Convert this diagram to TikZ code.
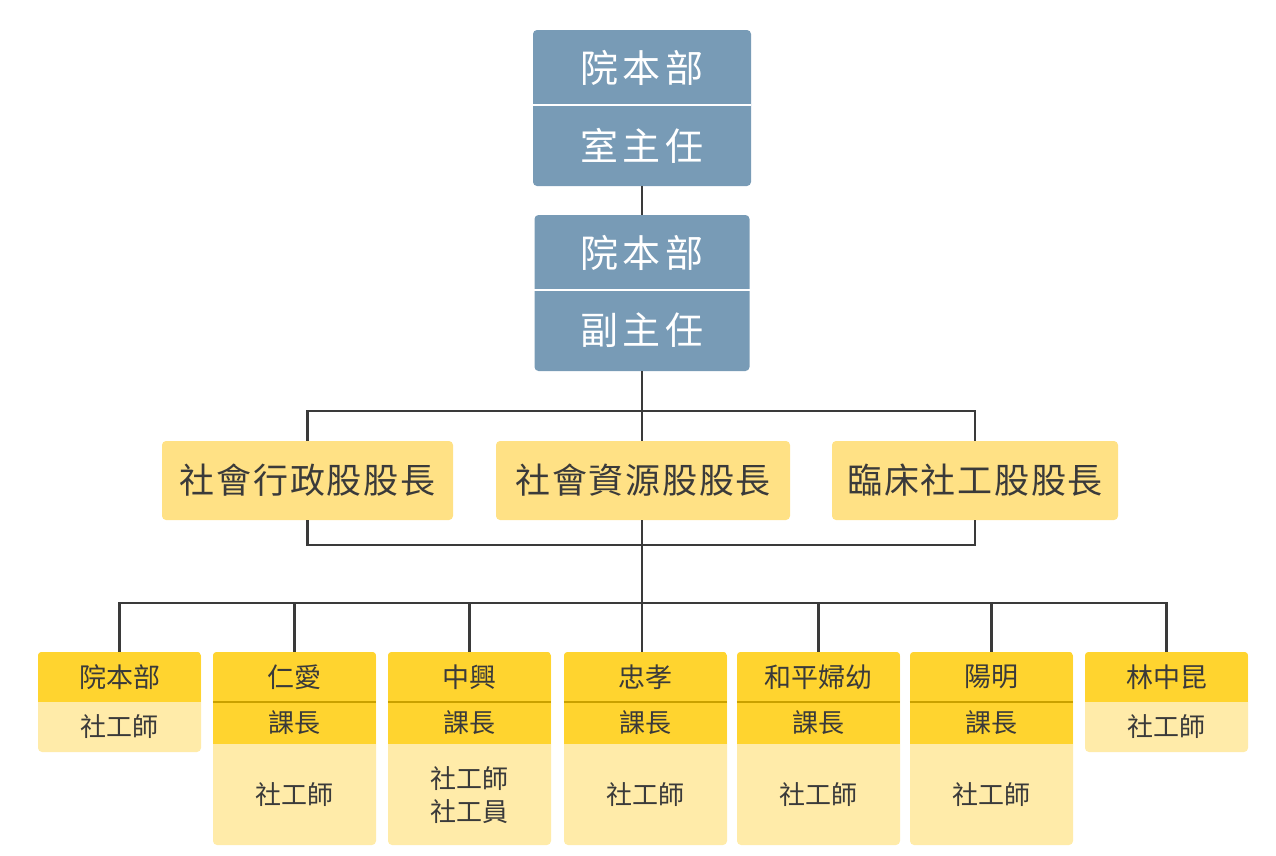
\documentclass[tikz,border=0pt]{standalone}
\usepackage{fontspec}
\setmainfont{Noto Sans CJK TC}
\definecolor{chiefblue}{HTML}{789BB6}
\definecolor{sectionfill}{HTML}{FFE185}
\definecolor{unithead}{HTML}{FFD42F}
\definecolor{unitbody}{HTML}{FFEBA9}
\definecolor{unitrule}{HTML}{C9A100}
\definecolor{ink}{HTML}{3A3A3A}

\begin{document}
\begin{tikzpicture}[
  x=1pt, y=-1pt,
  chiefbox/.style={rectangle, rounded corners=4pt, fill=chiefblue, inner sep=0pt,
                   minimum height=156pt},
  chieftext/.style={text=white, inner sep=0pt, minimum height=75pt,
                    font=\fontsize{38}{44}\selectfont\addfontfeature{LetterSpace=12}},
  sectionbox/.style={rectangle, rounded corners=4pt, fill=sectionfill, inner sep=0pt,
                     minimum height=79pt, text=ink,
                     font=\fontsize{35}{42}\selectfont\addfontfeature{LetterSpace=5}},
  unitbox/.style={rectangle, rounded corners=4pt, fill=unitbody, inner sep=0pt,
                  minimum width=163pt},
  unitname/.style={fill=unithead, minimum width=163pt, minimum height=50pt, inner sep=0pt,
                   text=ink, font=\fontsize{27}{32}\selectfont},
  unitchief/.style={fill=unithead, minimum width=163pt, minimum height=42pt, inner sep=0pt,
                    text=ink, font=\fontsize{26}{32}\selectfont},
  staff/.style={text=ink, align=center, inner sep=0pt, font=\fontsize{26}{33}\selectfont},
  link/.style={line width=2.8pt, ink},
  bluerule/.style={line width=1.5pt, white},
  unitsplit/.style={line width=1.5pt, unitrule},
]

\useasboundingbox (0,0) rectangle (1276,855);

% directors
\node[chiefbox, minimum width=218pt] (top) at (642,108) {};
\node[chieftext] (topa) at (642,67.5) {院本部};
\node[chieftext] (topb) at (642,146) {室主任};
\draw[bluerule] (top.west |- topa.south) -- (top.east |- topa.south);

\node[chiefbox, minimum width=215pt] (dep) at (642,293) {};
\node[chieftext] (depa) at (642,252.5) {院本部};
\node[chieftext] (depb) at (642,330) {副主任};
\draw[bluerule] (dep.west |- depa.south) -- (dep.east |- depa.south);

% sections
\node[sectionbox, minimum width=291pt] (secA) at (307.5,480.5) {社會行政股股長};
\node[sectionbox, minimum width=294pt] (secB) at (643,480.5) {社會資源股股長};
\node[sectionbox, minimum width=286pt] (secC) at (975,480.5) {臨床社工股股長};

% units
\node[unitbox, minimum height=100pt] (u1) at (119.5,702) {};
\begin{scope}
  \clip[rounded corners=4pt] (u1.south west) rectangle (u1.north east);
  \node[unitname] (u1n) at (119.5,677) {院本部};
\end{scope}
\node[staff] (u1s) at (119.5,727) {社工師};

\node[unitbox, minimum height=193pt] (u2) at (294.5,748.5) {};
\begin{scope}
  \clip[rounded corners=4pt] (u2.south west) rectangle (u2.north east);
  \node[unitname] (u2n) at (294.5,677) {仁愛};
  \node[unitchief] (u2c) at (294.5,723) {課長};
\end{scope}
\draw[unitsplit] (u2n.south west) -- (u2n.south east);
\node[staff] (u2s) at (294.5,795) {社工師};

\node[unitbox, minimum height=193pt] (u3) at (469.5,748.5) {};
\begin{scope}
  \clip[rounded corners=4pt] (u3.south west) rectangle (u3.north east);
  \node[unitname] (u3n) at (469.5,677) {中興};
  \node[unitchief] (u3c) at (469.5,723) {課長};
\end{scope}
\draw[unitsplit] (u3n.south west) -- (u3n.south east);
\node[staff] (u3s) at (469.5,795.5) {社工師\\社工員};

\node[unitbox, minimum height=193pt] (u4) at (645.5,748.5) {};
\begin{scope}
  \clip[rounded corners=4pt] (u4.south west) rectangle (u4.north east);
  \node[unitname] (u4n) at (645.5,677) {忠孝};
  \node[unitchief] (u4c) at (645.5,723) {課長};
\end{scope}
\draw[unitsplit] (u4n.south west) -- (u4n.south east);
\node[staff] (u4s) at (645.5,795) {社工師};

\node[unitbox, minimum height=193pt] (u5) at (818.5,748.5) {};
\begin{scope}
  \clip[rounded corners=4pt] (u5.south west) rectangle (u5.north east);
  \node[unitname] (u5n) at (818.5,677) {和平婦幼};
  \node[unitchief] (u5c) at (818.5,723) {課長};
\end{scope}
\draw[unitsplit] (u5n.south west) -- (u5n.south east);
\node[staff] (u5s) at (818.5,795) {社工師};

\node[unitbox, minimum height=193pt] (u6) at (991.5,748.5) {};
\begin{scope}
  \clip[rounded corners=4pt] (u6.south west) rectangle (u6.north east);
  \node[unitname] (u6n) at (991.5,677) {陽明};
  \node[unitchief] (u6c) at (991.5,723) {課長};
\end{scope}
\draw[unitsplit] (u6n.south west) -- (u6n.south east);
\node[staff] (u6s) at (991.5,795) {社工師};

\node[unitbox, minimum height=100pt] (u7) at (1166.5,702) {};
\begin{scope}
  \clip[rounded corners=4pt] (u7.south west) rectangle (u7.north east);
  \node[unitname] (u7n) at (1166.5,677) {林中昆};
\end{scope}
\node[staff] (u7s) at (1166.5,727) {社工師};

% connectors
\coordinate (j1) at (642,411);
\coordinate (j2) at (642,545);
\coordinate (j3) at (642,603);

\draw[link] (top.south) -- (dep.north);
\draw[link] (dep.south) -- (j1);
\draw[link] (secA.north) |- (j1) -| (secC.north);
\draw[link] (j1) -- (j1 |- secB.north);
\draw[link] (secA.south) |- (j2) -| (secC.south);
\draw[link] (j2 |- secB.south) -- (j2 |- u4.north);
\draw[link] (u1.north) |- (j3) -| (u7.north);
\draw[link] (u2.north) -- (u2.north |- j3);
\draw[link] (u3.north) -- (u3.north |- j3);
\draw[link] (u5.north) -- (u5.north |- j3);
\draw[link] (u6.north) -- (u6.north |- j3);

\end{tikzpicture}
\end{document}
